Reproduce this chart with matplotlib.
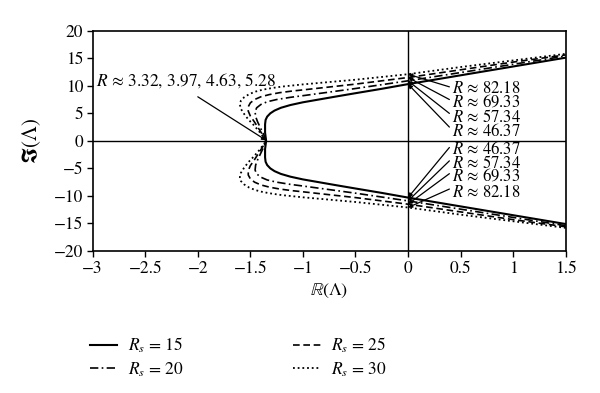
import numpy as np
import matplotlib
matplotlib.use('Agg')
import matplotlib.pyplot as plt
from matplotlib.lines import Line2D

plt.rcParams['font.family'] = 'STIXGeneral'
plt.rcParams['mathtext.fontset'] = 'stix'

# upper branch of each locus (lower branch is the complex conjugate)
re_15 = [-1.35, -1.36, -1.36, -1.355, -1.34, -1.31, -1.27, -1.21, -1.12, -1.0, -0.85, -0.7, -0.5, -0.25, 0.0, 0.5, 1.0, 1.5]
im_15 = [0.0, 1.5, 3.0, 3.8, 4.4, 5.0, 5.5, 6.0, 6.5, 7.0, 7.5, 8.0, 8.65, 9.45, 10.3, 11.9, 13.5, 15.1]

re_20 = [-1.35, -1.37, -1.40, -1.43, -1.45, -1.455, -1.44, -1.40, -1.34, -1.25, -1.12, -1.0, -0.75, -0.5, 0.0, 0.5, 1.0, 1.5]
im_20 = [0.0, 1.0, 2.2, 3.4, 4.4, 5.3, 6.0, 6.6, 7.1, 7.5, 7.9, 8.2, 8.85, 9.5, 10.9, 12.4, 13.9, 15.4]

re_25 = [-1.35, -1.38, -1.42, -1.46, -1.50, -1.52, -1.52, -1.50, -1.46, -1.40, -1.32, -1.22, -1.1, -1.0, -0.5, 0.0, 0.5, 1.0, 1.5]
im_25 = [0.0, 1.0, 2.2, 3.4, 4.5, 5.4, 6.2, 6.9, 7.5, 8.0, 8.4, 8.75, 9.05, 9.25, 10.3, 11.5, 12.9, 14.3, 15.6]

re_30 = [-1.35, -1.38, -1.42, -1.47, -1.52, -1.56, -1.59, -1.60, -1.59, -1.56, -1.51, -1.45, -1.38, -1.29, -1.2, -1.0, -0.5, 0.0, 0.5, 1.0, 1.5]
im_30 = [0.0, 0.8, 1.8, 2.9, 3.9, 4.9, 5.8, 6.6, 7.3, 7.9, 8.5, 8.95, 9.3, 9.6, 9.85, 10.25, 11.1, 12.1, 13.4, 14.6, 15.8]

rs_values = [15, 20, 25, 30]
r_nose = ['3.32', '3.97', '4.63', '5.28']
r_cross = ['46.37', '57.34', '69.33', '82.18']

curves = [(re_15, im_15), (re_20, im_20), (re_25, im_25), (re_30, im_30)]
styles = ['-', (0, (5, 2, 1, 2)), (0, (4, 2.2)), (0, (1, 1.6))]
widths = [1.5, 1.2, 1.2, 1.3]

fig = plt.figure(figsize=(6.0, 3.93), dpi=100)
ax = fig.add_axes([0.1545, 0.3613, 0.7883, 0.5606])

handles = []
for (re, im), ls, lw, rs in zip(curves, styles, widths, rs_values):
    re = np.array(re)
    im = np.array(im)
    x = np.concatenate([re[::-1], re[1:]])
    y = np.concatenate([-im[::-1], im[1:]])
    ax.plot(x, y, color='black', linestyle=ls, lw=lw)
    handles.append(Line2D([], [], color='black', linestyle=ls, lw=lw))

ax.axhline(0, color='black', lw=1.0)
ax.axvline(0, color='black', lw=1.0)

ax.set_xlim(-3, 1.5)
ax.set_ylim(-20, 20)
ax.set_xticks(np.arange(-3, 1.51, 0.5))
ax.set_yticks(np.arange(-20, 21, 5))
ax.set_xticklabels(['\u22123', '\u22122.5', '\u22122', '\u22121.5', '\u22121', '\u22120.5', '0', '0.5', '1', '1.5'])
ax.set_yticklabels(['\u221220', '\u221215', '\u221210', '\u22125', '0', '5', '10', '15', '20'])
ax.tick_params(direction='out', length=4, width=1.0, labelsize=12.5, top=False, right=False, pad=3)
for sp in ax.spines.values():
    sp.set_linewidth(1.2)

ax.set_xlabel(r'$\mathbb{R}(\Lambda)$', fontsize=13, labelpad=4)
ax.set_ylabel(r'$\mathbf{\Im}(\Lambda)$', fontsize=15, labelpad=8)

arrow = dict(arrowstyle='-|>', color='black', lw=0.9, mutation_scale=6,
             shrinkA=0, shrinkB=0)

# nose annotation
ax.annotate('$R$ \u2248 ' + ', '.join(r_nose), xy=(-1.35, 0.1), xytext=(-2.97, 11.0),
            fontsize=12.5, ha='left', va='center', annotation_clip=False)
ax.annotate('', xy=(-1.35, 0.1), xytext=(-2.0, 8.0), arrowprops=arrow)

# crossing annotations
label_up = [1.67, 4.28, 6.93, 9.36]
label_dn = [-1.52, -4.07, -6.5, -9.4]
for (re, im), lab, yu, yd in zip(curves, r_cross, label_up, label_dn):
    k = int(np.argmin(re))
    y0 = float(np.interp(0.0, re[k:], im[k:]))
    arr = dict(arrow, relpos=(0, 0.6))
    ax.annotate('$R$ \u2248 ' + lab, xy=(0, y0), xytext=(0.42, yu),
                fontsize=12, ha='left', va='center', arrowprops=arr)
    arr = dict(arrow, relpos=(0, 0.8))
    ax.annotate('$R$ \u2248 ' + lab, xy=(0, -y0), xytext=(0.42, yd),
                fontsize=12, ha='left', va='center', arrowprops=arr)

labels = ['$R_s$ = %d' % r for r in rs_values]
fig.legend(handles, labels, loc='upper left', bbox_to_anchor=(0.135, 0.168),
           ncol=2, frameon=False, fontsize=12.5, handlelength=1.6,
           handletextpad=0.6, columnspacing=6.3, labelspacing=0.3, borderpad=0)

fig.savefig('out.png', dpi=100, facecolor='white')
